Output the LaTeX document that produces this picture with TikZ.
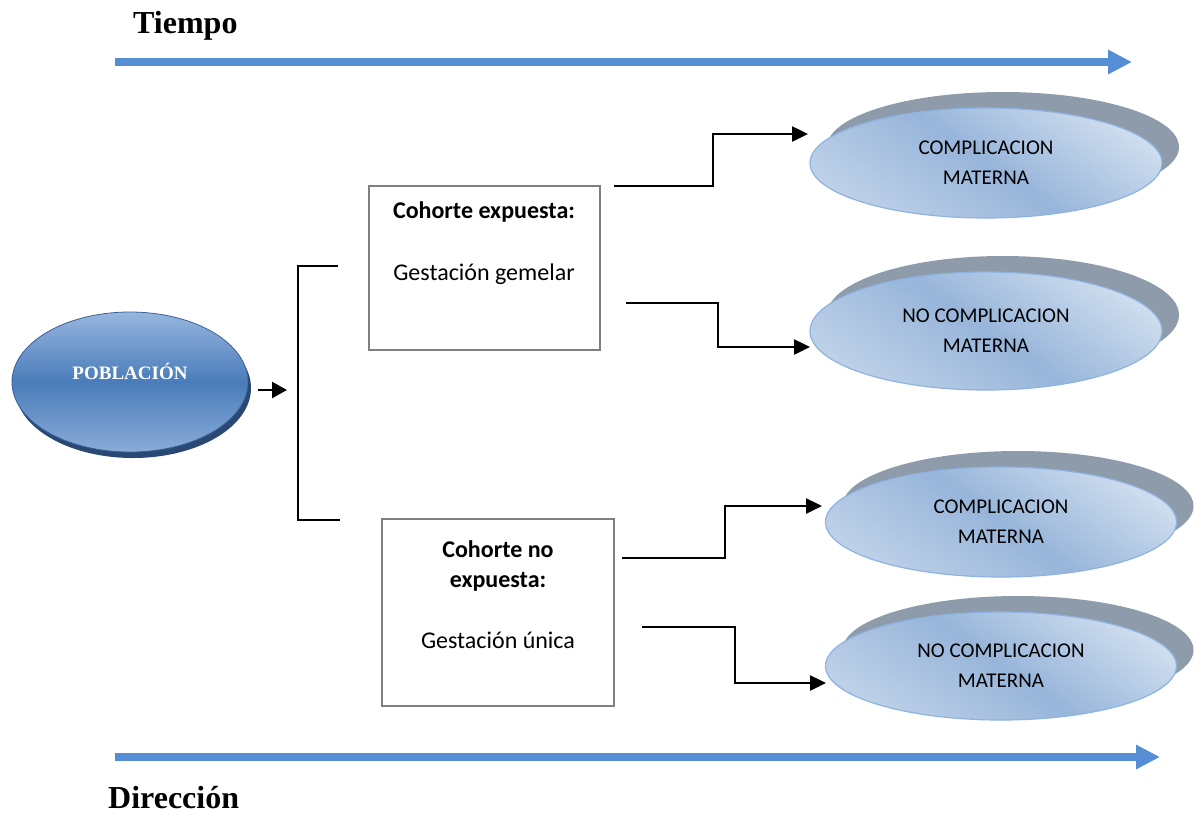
\documentclass[tikz,border=0pt]{standalone}
\usepackage{fontspec}
\setmainfont{Liberation Serif}
\newfontfamily\calfont{Carlito}
\usetikzlibrary{arrows.meta,shapes.geometric,shadows}
\definecolor{timeblue}{HTML}{558ED5}
\definecolor{shgray}{HTML}{8D9BAA}
\definecolor{ellborder}{HTML}{8DB3E0}
\definecolor{elltop}{HTML}{CDDCEE}
\definecolor{ellmid}{HTML}{97B5DA}
\definecolor{ellbot}{HTML}{BDD0E8}
\definecolor{popTop}{HTML}{97B6DF}
\definecolor{popMid}{HTML}{4A7CBA}
\definecolor{popBot}{HTML}{8AACD8}
\definecolor{popBorder}{HTML}{3A6296}
\definecolor{popShadow}{HTML}{2A4874}
\definecolor{boxgray}{HTML}{7F7F7F}
\tikzset{
  timearrow/.style={draw=timeblue, line width=7.5pt, -{Triangle[length=24pt,width=23pt]}},
  title/.style={font=\bfseries\fontsize{32}{36}\selectfont, inner sep=0pt, anchor=base west},
  outcome/.style={ellipse, minimum width=352pt, minimum height=110pt, inner sep=0pt,
    draw=ellborder, line width=1.2pt, top color=elltop, bottom color=ellbot, middle color=ellmid,
    shading angle=-35,
    general shadow={fill=shgray, shadow xshift=17pt, shadow yshift=16pt},
    font=\calfont\fontsize{21}{30}\selectfont, align=center},
  popl/.style={ellipse, minimum width=236pt, minimum height=140pt, inner sep=0pt,
    draw=popBorder, line width=0.8pt, top color=popTop, bottom color=popBot, middle color=popMid,
    general shadow={fill=popShadow, shadow xshift=3pt, shadow yshift=-6pt}},
  cohortbox/.style={draw=boxgray, line width=1.3pt, rectangle, inner sep=0pt},
  boxtext/.style={font=\calfont\fontsize{24}{28}\selectfont, inner sep=0pt, anchor=base},
  conn/.style={draw=black, line width=2.5pt, -{Triangle[length=16pt,width=15pt]}},
  brk/.style={draw=black, line width=1.6pt},
}
\begin{document}
\begin{tikzpicture}[x=1pt,y=-1pt]
\useasboundingbox (0,0) rectangle (1194,815);
% time arrows
\coordinate (ta1) at (115,62);
\coordinate (ta2) at (1132,62);
\coordinate (da1) at (115,757);
\coordinate (da2) at (1160,757);
\draw[timearrow] (ta1) -- (ta2);
\draw[timearrow] (da1) -- (da2);
\node[title] (tiempo) at (133,33) {Tiempo};
\node[title] (direccion) at (108,808) {Dirección};
% population
\node[popl] (pob) at (130,382) {};
\node[font=\bfseries\fontsize{19}{22}\selectfont, text=white, inner sep=0pt] (pobt) at (130,371) {POBLACIÓN};
\coordinate (pa) at (258,390);
\coordinate (pb) at (287,390);
\draw[draw=black, line width=2.5pt, -{Triangle[length=15pt,width=16pt]}] (pa) -- (pb);
% bracket
\coordinate (b1) at (338,266);
\coordinate (b2) at (298,266);
\coordinate (b3) at (298,520);
\coordinate (b4) at (340,520);
\draw[brk] (b1) -- (b2) -- (b3) -- (b4);
% cohort boxes
\node[cohortbox, minimum width=231pt, minimum height=164pt] (box1) at (484.5,268) {};
\node[boxtext] (b1t1) at (484,218) {\bfseries Cohorte expuesta:};
\node[boxtext] (b1t2) at (484,280) {Gestación gemelar};
\node[cohortbox, minimum width=232pt, minimum height=187pt] (box2) at (498,612.5) {};
\node[boxtext] (b2t1) at (498,557) {\bfseries Cohorte no};
\node[boxtext] (b2t2) at (498,587) {\bfseries expuesta:};
\node[boxtext] (b2t3) at (498,648) {Gestación única};
% outcomes
\node[outcome, minimum height=110pt] (o1) at (986,163) {COMPLICACION\\MATERNA};
\node[outcome, minimum height=118pt] (o2) at (986,331) {NO COMPLICACION\\MATERNA};
\node[outcome, minimum width=351pt, minimum height=110pt] (o3) at (1001,522) {COMPLICACION\\MATERNA};
\node[outcome, minimum width=351pt, minimum height=108pt] (o4) at (1001,666) {NO COMPLICACION\\MATERNA};
% connectors
\coordinate (c1s) at (614,186);
\coordinate (c1e) at (808,134);
\draw[conn] (c1s) -- (713,186) -- (713,134) -- (c1e);
\coordinate (c2s) at (626,303);
\coordinate (c2e) at (810,347);
\draw[conn] (c2s) -- (718,303) -- (718,347) -- (c2e);
\coordinate (c3s) at (622,558);
\coordinate (c3e) at (822,506);
\draw[conn] (c3s) -- (725,558) -- (725,506) -- (c3e);
\coordinate (c4s) at (642,627);
\coordinate (c4e) at (826,683);
\draw[conn] (c4s) -- (735,627) -- (735,683) -- (c4e);
\end{tikzpicture}
\end{document}
